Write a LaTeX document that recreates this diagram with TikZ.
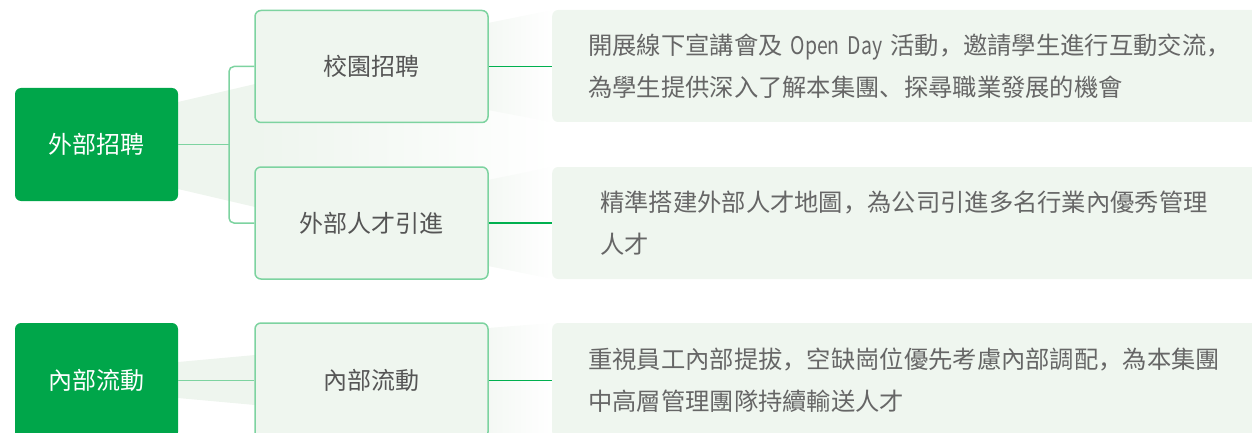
\documentclass[tikz,border=0pt]{standalone}
\usepackage{fontspec}
\setmainfont{Noto Sans CJK SC}
\newfontfamily\latnarrow[FakeStretch=0.8]{Noto Sans CJK SC}
\definecolor{dgreen}{HTML}{00A64A}
\definecolor{lgfill}{HTML}{EFF6EF}
\definecolor{bord}{HTML}{7DD3A0}
\definecolor{conn}{HTML}{00B04F}
\definecolor{shd}{HTML}{EEF5EE}
\definecolor{shdf}{HTML}{F4F8F4}
\definecolor{txttwo}{HTML}{555555}
\definecolor{txtthree}{HTML}{666666}
\tikzset{
  lvlone/.style={rectangle, rounded corners=6pt, fill=dgreen, text=white,
    minimum width=163pt, minimum height=113pt, inner sep=0pt,
    font=\fontsize{24}{30}\selectfont},
  lvltwo/.style={rectangle, rounded corners=6pt, fill=lgfill, draw=bord, line width=1.5pt,
    text=txttwo, minimum width=233pt, minimum height=112pt, inner sep=0pt,
    font=\fontsize{24}{30}\selectfont},
  lvlthree/.style={rectangle, rounded corners=6pt, fill=lgfill, text=txtthree,
    anchor=west, align=left, text width=700pt, inner xsep=36pt, inner ysep=0pt,
    minimum height=112pt, font=\fontsize{24.3}{42}\selectfont},
  brline/.style={draw=bord, line width=1.5pt},
  cnline/.style={draw=conn, line width=1.2pt},
}
\begin{document}
\begin{tikzpicture}[x=1pt,y=-1pt]
\useasboundingbox (0,0) rectangle (1252,433);
\clip (0,0) rectangle (1252,433);
% shadings (background)
\fill[shd] (178,102) -- (255,84) -- (255,207) -- (178,189) -- cycle;
\shade[left color=shd, right color=white] (255,84) rectangle (552,207);
\shade[left color=shdf, right color=white] (488,23) -- (552,10) -- (552,122) -- (488,110) -- cycle;
\shade[left color=shdf, right color=white] (488,180) -- (552,167) -- (552,279) -- (488,266) -- cycle;
\shade[left color=shdf, right color=white] (488,328) -- (552,323) -- (552,440) -- (488,440) -- cycle;
\fill[shd] (178,362) -- (255,355) -- (255,405) -- (178,398) -- cycle;
% nodes
\node[lvlone] (ext) at (96.5,144.5) {外部招聘};
\node[lvltwo] (camp) at (371.5,66.5) {校園招聘};
\node[lvltwo] (tal) at (371.5,223) {外部人才引進};
\node[lvlthree] (campd) at (552,66) {開展線下宣講會及{\latnarrow\ Open Day\ }活動，邀請學生進行互動交流，\\為學生提供深入了解本集團、探尋職業發展的機會};
\node[lvlthree, inner xsep=48pt] (tald) at (552,223) {精準搭建外部人才地圖，為公司引進多名行業內優秀管理\\人才};
\node[lvlone, minimum height=115pt] (intl) at (96.5,380.5) {內部流動};
\node[lvltwo, minimum height=115pt] (intm) at (371.5,380.5) {內部流動};
\node[lvlthree, minimum height=115pt] (intd) at (552,380.5) {重視員工內部提拔，空缺崗位優先考慮內部調配，為本集團\\中高層管理團隊持續輸送人才};
% connectors
\coordinate (br) at (229,144.5);
\draw[brline] (ext.east) -- (br);
\draw[brline, rounded corners=5pt] (camp.west) -| (br) |- (tal.west);
\draw[cnline] (camp.east) -- (camp.east -| campd.west);
\draw[cnline] (tal.east) -- (tal.east -| tald.west);
\draw[brline] (intl.east) -- (intm.west);
\draw[cnline] (intm.east) -- (intm.east -| intd.west);
\end{tikzpicture}
\end{document}
